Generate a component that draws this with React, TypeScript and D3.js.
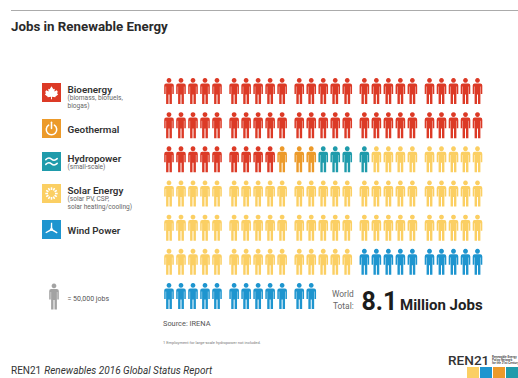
import React from "react";
import * as d3 from "d3";

// One person stands for 50,000 jobs.
const sectors = ["Bioenergy", "Geothermal", "Hydropower", "Solar Energy", "Wind Power"];
const sectorCounts = [59, 3, 4, 74, 22];
const sectorColors = ["#dc3a26", "#ec9a2a", "#1f9bab", "#fbcf63", "#1e95cf"];
const sectorNotes = [
  ["(biomass, biofuels,", "biogas)"],
  [],
  ["(small-scale)"],
  ["(solar PV, CSP,", "solar heating/cooling)"],
  [],
];
const groupIndex = [0, 1, 2, 3, 4];
const seatIndex = [0, 1, 2, 3, 4];
const rowIndex = [0, 1, 2, 3, 4, 5, 6];
const logoColors = ["#fbcf63", "#1e95cf", "#ec9a2a", "#1f9bab", "#fbcf63"];

const font = "Roboto, 'Liberation Sans', sans-serif";

// Figure drawn in a 9.6 x 26 box, origin at the top centre.
const PERSON =
  "M0 0a2.4 2.4 0 1 1 -0.01 0Z" +
  "M-2.8 5.4H2.8Q4.8 5.4 4.8 7.6V16H3.3V8.6H2.9V26H0.5V16.4H-0.5V26H-2.9V8.6H-3.3V16H-4.8V7.6Q-4.8 5.4 -2.8 5.4Z";

const rowY = d3.scalePoint<number>().domain(rowIndex).range([78, 283]);
const groupX = d3.scalePoint<number>().domain(groupIndex).range([169, 429.5]);
const seatX = d3.scalePoint<number>().domain(seatIndex).range([0, 48]);

const people = d3
  .merge<string>(sectorCounts.map((n, i) => d3.range(n).map(() => sectorColors[i])))
  .map((color, i) => ({
    color,
    row: Math.floor(i / 25),
    group: Math.floor((i % 25) / 5),
    seat: i % 5,
  }));

const legendY = d3.scaleOrdinal<string, number>().domain(sectors).range([83, 119, 152, 184, 220]);

function SectorIcon({ index }: { index: number }) {
  const stroke = { fill: "none", stroke: "#fff", strokeWidth: 1.6, strokeLinecap: "round" as const };
  if (index === 0) {
    return (
      <path
        fill="#fff"
        d="M10 3.5L12 6.5L13.5 6L13 9L15.5 7.5L16.5 9L16 11L17 12L14 14.5L14 15L10.5 14.6V17H9.5V14.6L6 15L6 14.5L3 12L4 11L3.5 9L4.5 7.5L7 9L6.5 6L8 6.5Z"
      />
    );
  }
  if (index === 1) {
    return (
      <g {...stroke}>
        <path d="M7 6.5A5.5 5.5 0 1 0 13 6.5" />
        <path d="M10 3.5V10" />
      </g>
    );
  }
  if (index === 2) {
    return (
      <g {...stroke}>
        <path d="M4 8Q7 5 10 7.5T16 7" />
        <path d="M4 13Q7 10 10 12.5T16 12" />
      </g>
    );
  }
  if (index === 3) {
    return (
      <g>
        {d3.range(12).map((k) => (
          <rect key={k} x={9.2} y={3.5} width={1.6} height={2.8} fill="#fff" transform={`rotate(${k * 30} 10 10)`} />
        ))}
      </g>
    );
  }
  return (
    <g fill="#fff">
      {[0, 120, 240].map((a) => (
        <path key={a} d="M9.2 10L9.4 3L10.7 3L10.8 10Z" transform={`rotate(${a} 10 10)`} />
      ))}
      <circle cx={10} cy={10} r={1.5} />
    </g>
  );
}

export default function App() {
  return (
    <svg
      width={518}
      height={378}
      viewBox="0 0 518 378"
      style={{ position: "absolute", left: 0, top: 0, background: "#fff", fontFamily: font }}
    >
      <line x1={11} x2={518} y1={10.5} y2={10.5} stroke="#ababab" strokeWidth={1} />
      <text x={11} y={31} fontSize={13.3} fontWeight={700} fill="#2a2a2a">
        Jobs in Renewable Energy
      </text>

      {sectors.map((name, i) => {
        const y = legendY(name);
        const single = sectorNotes[i].length === 0;
        return (
          <g key={name}>
            <g transform={`translate(42,${y})`}>
              <rect width={19} height={19} fill={sectorColors[i]} />
              <g transform="scale(0.95)">
                <SectorIcon index={i} />
              </g>
            </g>
            <text x={67.5} y={y + (single ? 14 : 9.5)} fontSize={9.9} fontWeight={600} fill="#333">
              {name}
            </text>
            {sectorNotes[i].map((line, k) => (
              <text key={line} x={67.5} y={y + 17 + k * 8.4} fontSize={6.6} fill="#666">
                {line}
              </text>
            ))}
          </g>
        );
      })}

      <path d={PERSON} fill="#a3a3a3" transform="translate(54,283.5)" />
      <text x={67.5} y={301} fontSize={7} fill="#555">
        = 50,000 jobs
      </text>

      {people.map((p, i) => (
        <path
          key={i}
          d={PERSON}
          fill={p.color}
          transform={`translate(${groupX(p.group)! + seatX(p.seat)!},${rowY(p.row)})`}
        />
      ))}

      <text x={332} y={297} fontSize={8.4} fill="#666">
        World
      </text>
      <text x={333} y={309} fontSize={8.4} fill="#666">
        Total:
      </text>
      <text x={361.5} y={310} fontSize={25} fontWeight={700} fill="#1c1c1c">
        8.1
      </text>
      <text x={400} y={310} fontSize={15} fontWeight={700} fill="#222">
        Million Jobs
      </text>

      <text x={163} y={326} fontSize={7.4} fill="#555">
        Source: IRENA
      </text>
      <text x={163} y={344} fontSize={4} fill="#777">
        1  Employment for large-scale hydropower not included.
      </text>

      <text x={11} y={374} fontSize={10} fill="#333">
        REN21
        <tspan dx={3} fontStyle="italic">
          Renewables 2016 Global Status Report
        </tspan>
      </text>

      <text x={448} y={365} fontSize={13.6} fontWeight={500} fill="#333">
        REN21
      </text>
      {["Renewable Energy", "Policy Network", "for the 21st Century"].map((line, k) => (
        <text key={line} x={492} y={357.5 + k * 3.4} fontSize={3} fontWeight={600} fill="#444">
          {line}
        </text>
      ))}
      {logoColors.map((c, i) => (
        <rect key={i} x={467 + i * 13} y={367} width={12} height={11} fill={c} />
      ))}
    </svg>
  );
}
